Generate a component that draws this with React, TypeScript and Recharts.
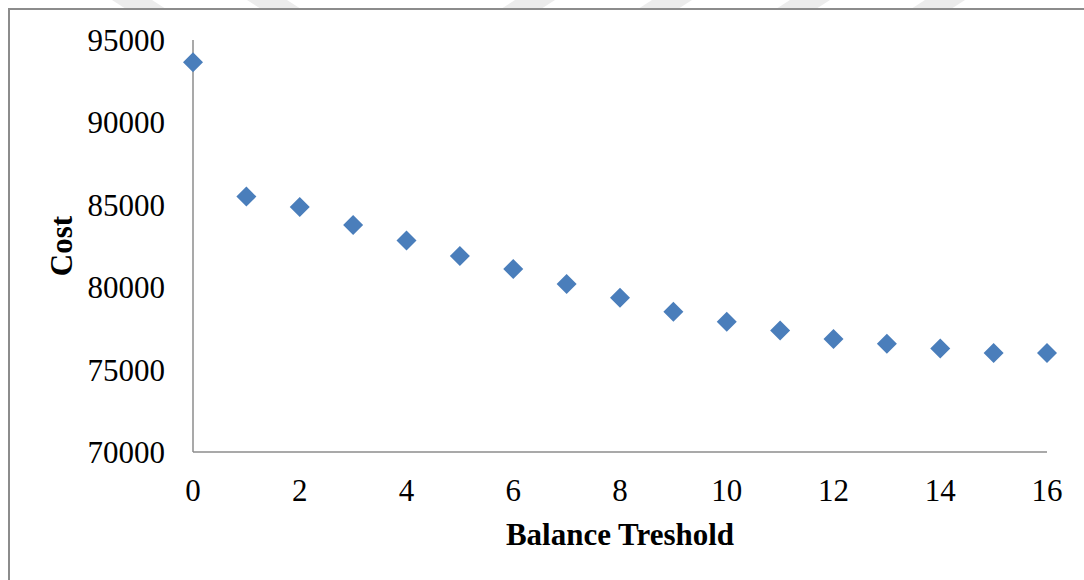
import React from 'react';
import { ScatterChart, Scatter, XAxis, YAxis, Label } from 'recharts';

const thresholds = [0, 1, 2, 3, 4, 5, 6, 7, 8, 9, 10, 11, 12, 13, 14, 15, 16];
const costs = [
  93650, 85500, 84860, 83780, 82830, 81900, 81100, 80200, 79360, 78510, 77900, 77370, 76850,
  76570, 76280, 76000, 76000,
];
const xTicks = [0, 2, 4, 6, 8, 10, 12, 14, 16];
const yTicks = [70000, 75000, 80000, 85000, 90000, 95000];

const points = thresholds.map((t, i) => ({ threshold: t, cost: costs[i] }));

const FONT = '"Liberation Serif", "Times New Roman", serif';
const AXIS_GRAY = '#8c8c8c';
const MARKER = '#4a7ebb';

// square rotated 45deg, centred on the scaled point
const Diamond = (props: any) => {
  const { cx, cy } = props;
  const r = 10;
  return (
    <polygon
      points={`${cx},${cy - r} ${cx + r},${cy} ${cx},${cy + r} ${cx - r},${cy}`}
      fill={MARKER}
    />
  );
};

const XTitle = (props: any) => {
  const vb = props.viewBox || {};
  return (
    <text
      x={vb.x + vb.width / 2}
      y={vb.y + vb.height + 3}
      textAnchor="middle"
      fontFamily={FONT}
      fontWeight="bold"
      fontSize={31}
      fill="#000"
    >
      Balance Treshold
    </text>
  );
};

const YTitle = (props: any) => {
  const vb = props.viewBox || {};
  const x = vb.x + 52;
  const y = vb.y + vb.height / 2;
  return (
    <text
      x={x}
      y={y}
      transform={`rotate(-90 ${x} ${y})`}
      textAnchor="middle"
      fontFamily={FONT}
      fontWeight="bold"
      fontSize={31}
      fill="#000"
    >
      Cost
    </text>
  );
};

// faint diagonal strokes along the very top of the page
const stripes = [
  { x: 112, dir: 1 },
  { x: 247, dir: 1 },
  { x: 515, dir: -1 },
  { x: 652, dir: -1 },
  { x: 790, dir: -1 },
  { x: 925, dir: -1 },
];

const App: React.FC = () => {
  return (
    <div
      style={{
        position: 'fixed',
        left: 0,
        top: 0,
        width: 1084,
        height: 580,
        overflow: 'hidden',
        background: '#fff',
      }}
    >
      <svg width={1084} height={20} style={{ position: 'absolute', left: 0, top: 0 }}>
        {stripes.map((s, i) => {
          const w = 40;
          const d = 14 * s.dir;
          return (
            <polygon
              key={i}
              points={`${s.x},0 ${s.x + w},0 ${s.x + w + d},9 ${s.x + d},9`}
              fill="#ececec"
            />
          );
        })}
      </svg>
      <div
        style={{
          position: 'absolute',
          left: 8,
          top: 8,
          width: 1074,
          height: 570,
          borderLeft: `2px solid ${AXIS_GRAY}`,
          borderTop: `2px solid ${AXIS_GRAY}`,
        }}
      >
        <ScatterChart
          width={1074}
          height={570}
          margin={{ top: 30, right: 37, bottom: 38, left: 10 }}
        >
          <XAxis
            type="number"
            dataKey="threshold"
            domain={[0, 16]}
            ticks={xTicks}
            interval={0}
            height={90}
            axisLine={{ stroke: AXIS_GRAY, strokeWidth: 1.5 }}
            tickLine={false}
            tickSize={0}
            tickMargin={27}
            tick={{ fill: '#000', fontFamily: FONT, fontSize: 31 }}
          >
            <Label content={<XTitle />} />
          </XAxis>
          <YAxis
            type="number"
            dataKey="cost"
            domain={[70000, 95000]}
            ticks={yTicks}
            interval={0}
            width={173}
            axisLine={{ stroke: AXIS_GRAY, strokeWidth: 1.5 }}
            tickLine={false}
            tickSize={0}
            tickMargin={28}
            tick={{ fill: '#000', fontFamily: FONT, fontSize: 31 }}
          >
            <Label content={<YTitle />} />
          </YAxis>
          <Scatter data={points} shape={<Diamond />} isAnimationActive={false} />
        </ScatterChart>
      </div>
    </div>
  );
};

export default App;
